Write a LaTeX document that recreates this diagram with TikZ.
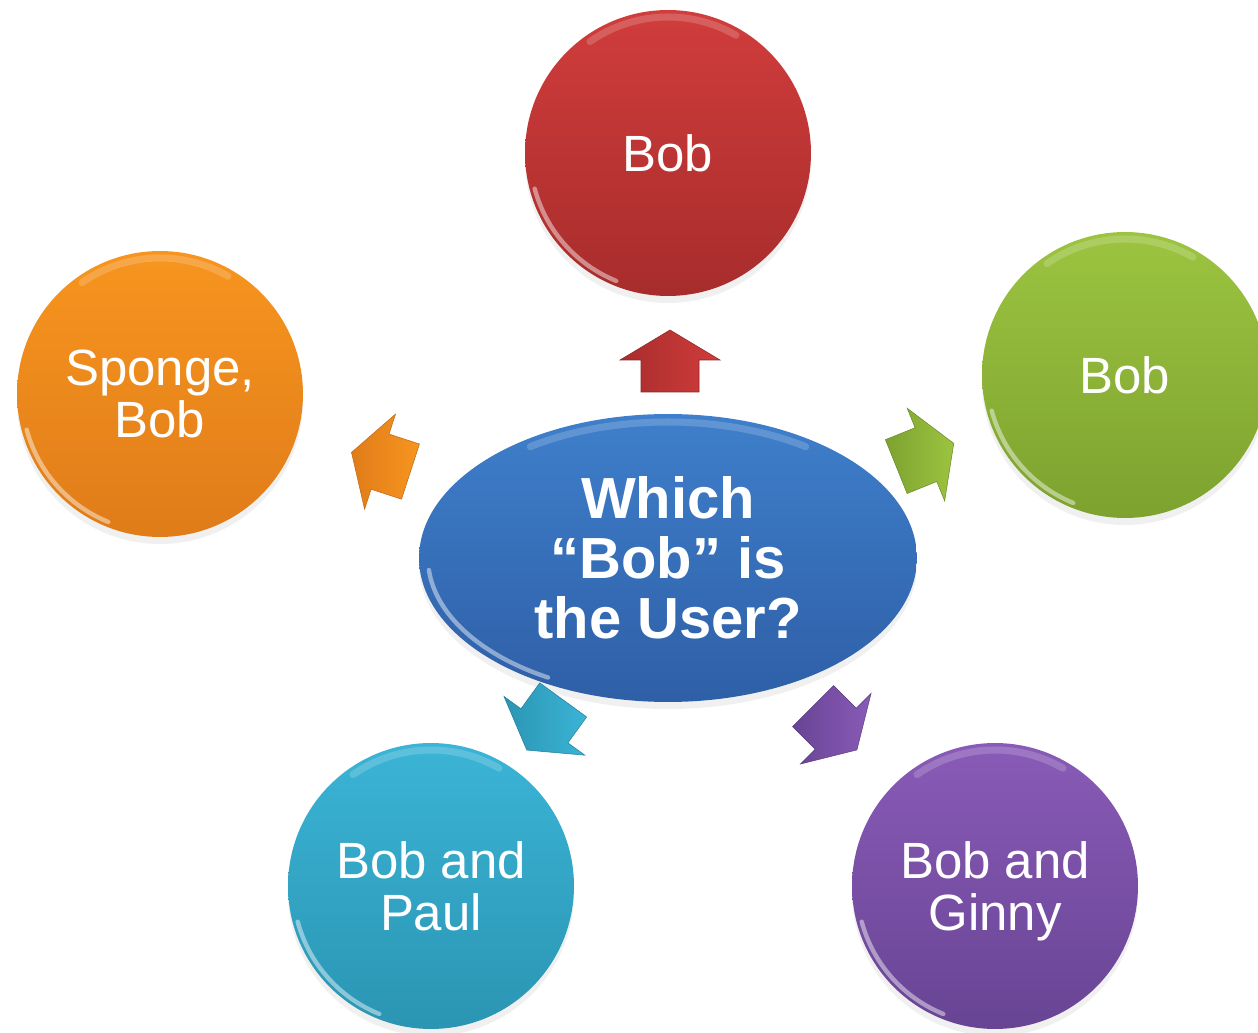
\documentclass[tikz,border=0pt]{standalone}
\usepackage{fontspec}
\setmainfont{Liberation Sans}
\usetikzlibrary{shapes.geometric,shadows}
\definecolor{redT}{HTML}{D03D3C}\definecolor{redB}{HTML}{A82C2C}
\definecolor{grnT}{HTML}{9CC440}\definecolor{grnB}{HTML}{7DA22F}
\definecolor{orgT}{HTML}{F7951F}\definecolor{orgB}{HTML}{E07C19}
\definecolor{cyaT}{HTML}{3BB4D6}\definecolor{cyaB}{HTML}{2B95B3}
\definecolor{purT}{HTML}{895BB7}\definecolor{purB}{HTML}{684494}
\definecolor{bluT}{HTML}{3F7FCB}\definecolor{bluB}{HTML}{2E5FA7}
\begin{document}
\begin{tikzpicture}[x=0.02cm,y=-0.02cm,
  ball/.style={circle, minimum size=5.72cm, inner sep=0pt, text=white,
    font=\fontsize{29}{29.5}\selectfont, align=center, text depth=0pt,
    drop shadow={opacity=0.12, shadow xshift=0pt, shadow yshift=-4pt}},
  rim/.style={white, opacity=0.45, line width=2.5pt, line cap=round},
  toprim/.style={white, opacity=0.18, line width=4pt, line cap=round},
  blockarrow/.style={draw=#1!85!black, line width=0.3pt}]
\useasboundingbox (0,0) rectangle (1258,1033);

% circles
\node[ball, top color=redT, bottom color=redB] (red) at (668,153) {Bob};
\node[ball, top color=grnT, bottom color=grnB] (green) at (1125,375) {Bob};
\node[ball, top color=orgT, bottom color=orgB] (orange) at (160,394) {Sponge,\\Bob};
\node[ball, top color=cyaT, bottom color=cyaB] (cyan) at (431,886) {Bob and\\Paul};
\node[ball, top color=purT, bottom color=purB] (purple) at (995,886) {Bob and\\Ginny};

% centre ellipse
\node[ellipse, minimum width=9.96cm, minimum height=5.76cm, inner sep=0pt,
  top color=bluT, bottom color=bluB, text=white, align=center,
  font=\bfseries\fontsize{33}{34}\selectfont,
  drop shadow={opacity=0.12, shadow xshift=0pt, shadow yshift=-4pt}]
  (center) at (668,558) {Which\\``Bob'' is\\the User?};

% rim highlights
\foreach \n in {red,green,orange,cyan,purple}{
  \draw[rim] ([shift={(112:138)}]\n.center) arc[start angle=112, end angle=165, radius=138];
  \draw[toprim] ([shift={(-60:136)}]\n.center) arc[start angle=-60, end angle=-125, radius=136];
}
\draw[rim] ([shift={(120:{240} and {138})}]center.center)
  arc[start angle=120, end angle=175, x radius=240, y radius=138];
\draw[toprim] ([shift={(-55:{240} and {136})}]center.center)
  arc[start angle=-55, end angle=-125, x radius=240, y radius=136];

% block arrows
\def\arrowpath{(-31,-29) -- (1,-29) -- (1,-50) -- (31,0) -- (1,50) -- (1,29) -- (-31,29) -- cycle}
\begin{scope}[shift={(670,361)}, rotate=90]
  \path[blockarrow=redB, left color=redB, right color=redT] \arrowpath;
\end{scope}
\begin{scope}[shift={(925,455)}, rotate=22]
  \path[blockarrow=grnB, left color=grnB, right color=grnT] \arrowpath;
\end{scope}
\begin{scope}[shift={(381,462)}, rotate=162]
  \path[blockarrow=orgB, left color=orgB, right color=orgT] \arrowpath;
\end{scope}
\begin{scope}[shift={(545,725)}, rotate=-126]
  \path[blockarrow=cyaB, left color=cyaB, right color=cyaT] \arrowpath;
\end{scope}
\begin{scope}[shift={(835,728)}, rotate=-45]
  \path[blockarrow=purB, left color=purB, right color=purT] \arrowpath;
\end{scope}
\end{tikzpicture}
\end{document}
